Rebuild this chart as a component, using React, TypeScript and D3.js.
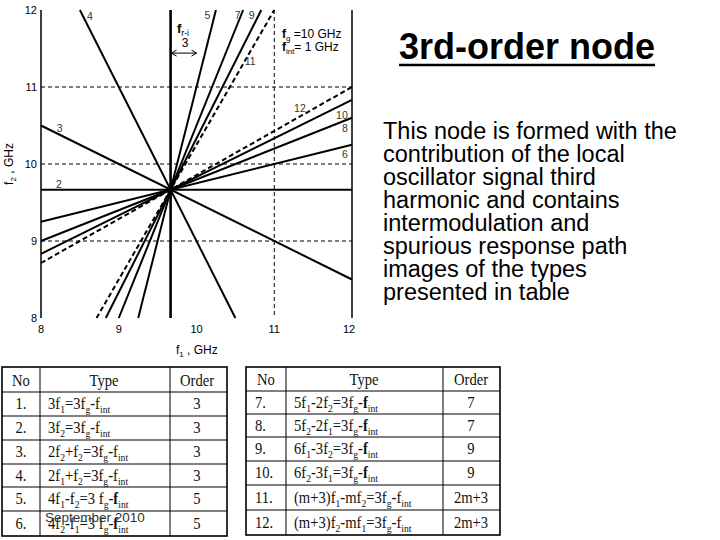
import React from 'react';
import * as d3 from 'd3';

// ---------- chart data ----------
const xTicks = [8, 9, 10, 11, 12];
const yTicks = [8, 9, 10, 11, 12];
const hGrid = [9, 10, 11];
const vGrid = [11];
const fG = 10; // GHz
const fInt = 1; // GHz
// spurious-response lines: coefF1 * f1 + coefF2 * f2 = 3 fg - fint
const lineIds = [1, 2, 3, 4, 5, 6, 7, 8, 9, 10, 11, 12];
const coefF1 = [3, 0, 1, 2, 4, -1, 5, -2, 6, -3, 7, -4];
const coefF2 = [0, 3, 2, 1, -1, 4, -2, 5, -3, 6, -4, 7];
const dashedIds = [11, 12];
const labelTexts = ['4', '5', '7', '9', '11', '12', '10', '8', '6', '3', '2'];
const labelF1 = [8.63, 10.14, 10.53, 10.71, 10.69, 11.33, 11.87, 11.91, 11.91, 8.24, 8.23];
const labelF2 = [11.92, 11.94, 11.94, 11.94, 11.34, 10.73, 10.64, 10.47, 10.13, 10.47, 9.74];

// ---------- text data ----------
const titleText = '3rd-order node';
const bodyLines = [
  'This node is formed with the',
  'contribution of the local',
  'oscillator signal third',
  'harmonic and contains',
  'intermodulation and',
  'spurious response path',
  'images of the types',
  'presented in table',
];
const tableHeader = ['No', 'Type', 'Order'];
const leftNo = ['1.', '2.', '3.', '4.', '5.', '6.'];
const leftType = [
  '3f{1}=3f{g}-f{int}',
  '3f{2}=3f{g}-f{int}',
  '2f{2}+f{2}=3f{g}-f{int}',
  '2f{1}+f{2}=3f{g}-f{int}',
  '4f{1}-f{2}=3 f{g}-*f*{int}',
  '4f{2}-f{1}=3 f{g}-*f*{int}',
];
const leftOrder = ['3', '3', '3', '3', '5', '5'];
const rightNo = ['7.', '8.', '9.', '10.', '11.', '12.'];
const rightType = [
  '5f{1}-2f{2}=3f{g}-*f*{int}',
  '5f{2}-2f{1}=3f{g}-*f*{int}',
  '6f{1}-3f{2}=3f{g}-*f*{int}',
  '6f{2}-3f{1}=3f{g}-*f*{int}',
  '(m+3)f{1}-mf{2}=3f{g}-f{int}',
  '(m+3)f{2}-mf{1}=3f{g}-f{int}',
];
const rightOrder = ['7', '7', '9', '9', '2m+3', '2m+3'];
const footerText = 'September 2010';

const SANS = '"Liberation Sans", Arial, Helvetica, sans-serif';
const SERIF = '"Liberation Serif", "Times New Roman", serif';

type Seg = { t: string; sub: boolean; bold: boolean };
function parseRich(s: string): Seg[] {
  const out: Seg[] = [];
  const re = /\*([^*]+)\*|\{([^}]+)\}|([^*{]+)/g;
  let m: RegExpExecArray | null;
  while ((m = re.exec(s))) {
    if (m[1]) out.push({ t: m[1], sub: false, bold: true });
    else if (m[2]) out.push({ t: m[2], sub: true, bold: false });
    else out.push({ t: m[3], sub: false, bold: false });
  }
  return out;
}

function Rich({ s, size, subShift = 4 }: { s: string; size: number; subShift?: number }) {
  let shift = 0;
  const segs = parseRich(s);
  return (
    <>
      {segs.map((sg, i) => {
        const target = sg.sub ? subShift : 0;
        const dy = target - shift;
        shift = target;
        return (
          <tspan key={i} dy={dy} fontSize={sg.sub ? size * 0.66 : size} fontWeight={sg.bold ? 'bold' : 'normal'}>
            {sg.t}
          </tspan>
        );
      })}
    </>
  );
}

function clipLine(a: number, b: number, c: number, lo: number, hi: number): [number, number][] {
  const pts: [number, number][] = [];
  const add = (x: number, y: number) => {
    if (x >= lo - 1e-9 && x <= hi + 1e-9 && y >= lo - 1e-9 && y <= hi + 1e-9) {
      if (!pts.some((p) => Math.abs(p[0] - x) < 1e-6 && Math.abs(p[1] - y) < 1e-6)) pts.push([x, y]);
    }
  };
  if (b !== 0) {
    add(lo, (c - a * lo) / b);
    add(hi, (c - a * hi) / b);
  }
  if (a !== 0) {
    add((c - b * lo) / a, lo);
    add((c - b * hi) / a, hi);
  }
  return pts.slice(0, 2);
}

function Table({
  cols,
  rows,
  nos,
  types,
  orders,
  noAlign,
  noX,
  typeX,
  typeHeadX,
  orderX,
}: {
  cols: number[];
  rows: number[];
  nos: string[];
  types: string[];
  orders: string[];
  noAlign: 'middle' | 'start';
  noX: number;
  typeX: number;
  typeHeadX: number;
  orderX: number;
}) {
  const fs = 17;
  const sx = 0.86;
  const T = (x: number, y: number, anchor: string, content: React.ReactNode, key: string) => (
    <g key={key} transform={`translate(${x},${y}) scale(${sx},1)`}>
      <text x={0} y={0} textAnchor={anchor} fontFamily={SERIF} fontSize={fs} fill="#111">
        {content}
      </text>
    </g>
  );
  const top = rows[0];
  const bottom = rows[rows.length - 1];
  return (
    <g>
      {rows.slice(1, -1).map((ry, i) => (
        <line key={'r' + i} x1={cols[0]} x2={cols[cols.length - 1]} y1={ry} y2={ry} stroke="#000" strokeWidth={1} />
      ))}
      {cols.slice(1, -1).map((cx, i) => (
        <line key={'c' + i} x1={cx} x2={cx} y1={top} y2={bottom} stroke="#000" strokeWidth={1} />
      ))}
      <rect x={cols[0]} y={top} width={cols[cols.length - 1] - cols[0]} height={bottom - top} fill="none" stroke="#000" strokeWidth={1.6} />
      {T((cols[0] + cols[1]) / 2, (rows[0] + rows[1]) / 2 + 6, 'middle', tableHeader[0], 'h0')}
      {T(typeHeadX, (rows[0] + rows[1]) / 2 + 6, 'middle', tableHeader[1], 'h1')}
      {T(orderX, (rows[0] + rows[1]) / 2 + 6, 'middle', tableHeader[2], 'h2')}
      {nos.map((n, i) => {
        const cy = (rows[i + 1] + rows[i + 2]) / 2 + 5;
        return (
          <g key={'row' + i}>
            {T(noX, cy, noAlign, n, 'n' + i)}
            {T(typeX, cy, 'start', <Rich s={types[i]} size={fs} subShift={4} />, 't' + i)}
            {T(orderX, cy, 'middle', orders[i], 'o' + i)}
          </g>
        );
      })}
    </g>
  );
}

export default function App() {
  const W = 720;
  const H = 540;
  const x = d3.scaleLinear().domain([8, 12]).range([41, 352]);
  const y = d3.scaleLinear().domain([8, 12]).range([318, 10]);
  const rhs = 3 * fG - fInt;
  const lineGen = d3
    .line<[number, number]>()
    .x((d) => x(d[0]))
    .y((d) => y(d[1]));
  const centerF = rhs / 3;

  return (
    <svg width={W} height={H} style={{ position: 'absolute', left: 0, top: 0, background: '#fff' }}>
      <rect x={0} y={0} width={W} height={H} fill="#fff" />

      {/* ---------- chart ---------- */}
      <g>
        {hGrid.map((v) => (
          <line key={'hg' + v} x1={x(8)} x2={x(12)} y1={y(v)} y2={y(v)} stroke="#000" strokeWidth={1} strokeDasharray="4,3" />
        ))}
        {vGrid.map((v) => (
          <line key={'vg' + v} x1={x(v)} x2={x(v)} y1={y(12)} y2={y(8)} stroke="#000" strokeWidth={1} strokeDasharray="4,3" />
        ))}
        <line x1={x(8)} x2={x(8)} y1={y(12)} y2={y(8)} stroke="#000" strokeWidth={1.5} />
        <line x1={x(12)} x2={x(12)} y1={y(12)} y2={y(8)} stroke="#000" strokeWidth={1.5} />

        {lineIds.map((id, i) => {
          const pts = clipLine(coefF1[i], coefF2[i], rhs, 8, 12);
          const dashed = dashedIds.includes(id);
          return (
            <path
              key={'l' + id}
              d={lineGen(pts) || ''}
              fill="none"
              stroke="#000"
              strokeWidth={id === 1 ? 2.6 : 2}
              strokeDasharray={dashed ? '5,3' : undefined}
            />
          );
        })}

        {labelTexts.map((t, i) => (
          <text
            key={'lb' + i}
            x={x(labelF1[i])}
            y={y(labelF2[i]) + 4}
            textAnchor="middle"
            fontFamily={SANS}
            fontSize={10.5}
            fill="#333"
          >
            {t}
          </text>
        ))}

        {/* tick labels */}
        {yTicks.map((v) => (
          <text key={'yt' + v} x={37} y={y(v) + 4} textAnchor="end" fontFamily={SANS} fontSize={11} fill="#000">
            {v}
          </text>
        ))}
        {xTicks.map((v) => (
          <text key={'xt' + v} x={x(v) - (v === 12 ? 3 : 0)} y={333} textAnchor="middle" fontFamily={SANS} fontSize={11} fill="#000">
            {v}
          </text>
        ))}
        <text x={176} y={354} fontFamily={SANS} fontSize={12} fill="#000">
          <Rich s="f{1} , GHz" size={12} subShift={3} />
        </text>
        <g transform="translate(13,164) rotate(-90)">
          <text x={0} y={0} textAnchor="middle" fontFamily={SANS} fontSize={12} fill="#000">
            <Rich s="f{2} , GHz" size={12} subShift={3} />
          </text>
        </g>

        {/* annotations */}
        <text x={177} y={33} fontFamily={SANS} fontSize={13} fill="#000">
          <Rich s="*f*{r-i}" size={13} subShift={3} />
        </text>
        <text x={185} y={47} textAnchor="middle" fontFamily={SANS} fontSize={12} fill="#000">
          3
        </text>
        {(() => {
          const ya = y(11.44);
          const xa = x(centerF) + 1;
          const xb = x(10);
          return (
            <g stroke="#000" strokeWidth={1} fill="none">
              <line x1={xa} x2={xb} y1={ya} y2={ya} />
              <polyline points={`${xa + 5},${ya - 3} ${xa},${ya} ${xa + 5},${ya + 3}`} />
              <polyline points={`${xb - 5},${ya - 3} ${xb},${ya} ${xb - 5},${ya + 3}`} />
            </g>
          );
        })()}
        <text x={282} y={38} fontFamily={SANS} fontSize={12} fill="#000">
          <Rich s={`*f*{g} =${fG} GHz`} size={12} subShift={3} />
        </text>
        <text x={282} y={51} fontFamily={SANS} fontSize={12} fill="#000">
          <Rich s={`*f*{int}= ${fInt} GHz`} size={12} subShift={3} />
        </text>
      </g>

      {/* ---------- title & body ---------- */}
      <text x={399} y={59} fontFamily={SANS} fontSize={36} fontWeight="bold" fill="#000">
        {titleText}
      </text>
      <line x1={399} x2={655} y1={65} y2={65} stroke="#000" strokeWidth={2.5} />
      {bodyLines.map((l, i) => (
        <text key={'b' + i} x={383} y={139 + i * 23} fontFamily={SANS} fontSize={23.5} fill="#000">
          {l}
        </text>
      ))}

      {/* ---------- tables ---------- */}
      <Table
        cols={[2, 40, 170, 227]}
        rows={[367, 392, 416, 440, 464, 487, 511, 536]}
        nos={leftNo}
        types={leftType}
        orders={leftOrder}
        noAlign="middle"
        noX={21}
        typeX={48}
        typeHeadX={104}
        orderX={197}
      />
      <Table
        cols={[246, 286, 443, 500]}
        rows={[367, 391, 414, 437, 461, 485, 510, 535]}
        nos={rightNo}
        types={rightType}
        orders={rightOrder}
        noAlign="start"
        noX={255}
        typeX={294}
        typeHeadX={364}
        orderX={471}
      />

      <text x={45} y={522} fontFamily={SANS} fontSize={13.5} fill="#333">
        {footerText}
      </text>
    </svg>
  );
}
